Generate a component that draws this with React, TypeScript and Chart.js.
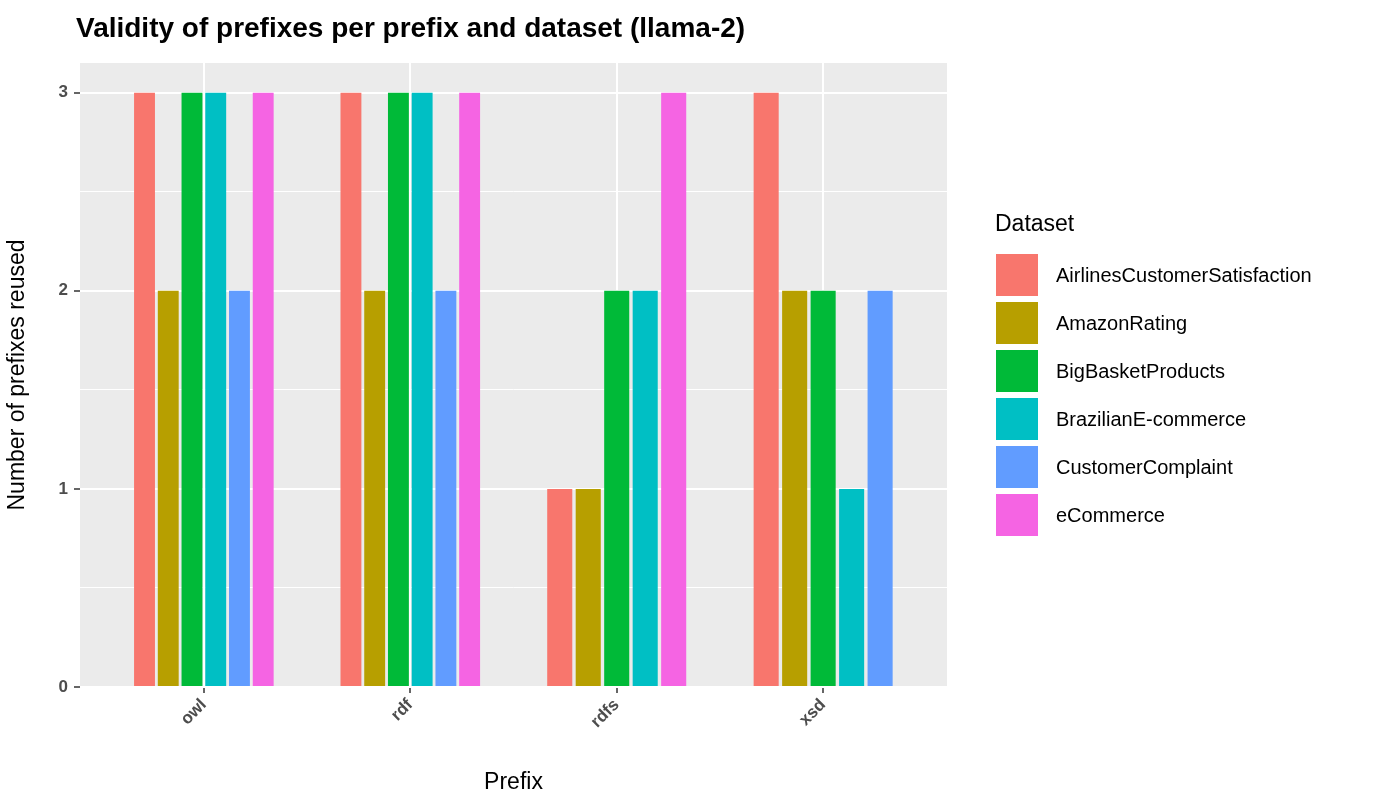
import React, { useEffect, useRef } from "react";
import { Chart, registerables } from "chart.js";
Chart.register(...registerables);

const prefixes = ["owl", "rdf", "rdfs", "xsd"];
const datasetNames = ["AirlinesCustomerSatisfaction", "AmazonRating", "BigBasketProducts", "BrazilianE-commerce", "CustomerComplaint", "eCommerce"];
const colors = ["#F8766D", "#B79F00", "#00BA38", "#00BFC4", "#619CFF", "#F564E3"];
const airlines = [3, 3, 1, 3];
const amazon = [2, 2, 1, 2];
const bigBasket = [3, 3, 2, 2];
const brazilian = [3, 3, 2, 1];
const complaint = [2, 2, null, 2];
const ecommerce = [3, 3, 3, null];
const seriesValues = [airlines, amazon, bigBasket, brazilian, complaint, ecommerce];

const FONT = "Arial, 'Liberation Sans', sans-serif";

export default function App() {
  const ref = useRef<HTMLCanvasElement>(null);
  useEffect(() => {
    const bg = {
      id: "bg",
      beforeDraw(c: any) {
        const a = c.chartArea;
        c.ctx.save();
        c.ctx.fillStyle = "#EBEBEB";
        c.ctx.fillRect(a.left, a.top, a.right - a.left, a.bottom - a.top);
        c.ctx.restore();
      },
    };
    const chart = new Chart(ref.current!, {
      type: "bar",
      data: {
        datasets: seriesValues.map((vals, i) => ({
          label: datasetNames[i],
          data: vals.map((v, j) => ({ x: j + 1, y: v })) as any,
          backgroundColor: colors[i],
          borderWidth: 0,
          skipNull: true,
          categoryPercentage: 0.69,
          barPercentage: 0.88,
        })),
      },
      options: {
        animation: false,
        responsive: false,
        events: [],
        layout: { padding: { top: 63, right: 453, left: 0, bottom: 0 } },
        plugins: { legend: { display: false }, tooltip: { enabled: false } },
        scales: {
          x: {
            type: "linear",
            offset: false,
            min: 0.4,
            max: 4.6,
            afterBuildTicks: (s: any) => { s.ticks = [1, 2, 3, 4].map((v) => ({ value: v })); },
            afterFit: (s: any) => { s.height = 113; },
            ticks: {
              callback: (v: any) => prefixes[Number(v) - 1] ?? "",
              minRotation: 45, maxRotation: 45,
              color: "#4D4D4D",
              font: { family: FONT, size: 17, weight: "bold" },
              padding: 2,
            },
            grid: { offset: false, color: "#FFFFFF", lineWidth: 2, tickLength: 6, tickColor: "#333333", tickWidth: 1.5 },
            border: { display: false },
            title: { display: true, text: "Prefix", color: "#000", font: { family: FONT, size: 23 }, padding: { top: 0 } },
          },
          y: {
            min: 0,
            max: 3.15,
            afterBuildTicks: (s: any) => { s.ticks = [0, 0.5, 1, 1.5, 2, 2.5, 3].map((v) => ({ value: v })); },
            afterFit: (s: any) => { s.width = 80; },
            ticks: {
              callback: (v: any) => (Number.isInteger(Number(v)) ? String(v) : ""),
              color: "#4D4D4D",
              font: { family: FONT, size: 17, weight: "bold" },
              padding: 6,
            },
            grid: {
              color: "#FFFFFF",
              lineWidth: (c: any) => (Number.isInteger(c.tick?.value) ? 2 : 1),
              tickLength: 6,
              tickColor: (c: any) => (Number.isInteger(c.tick?.value) ? "#333333" : "rgba(0,0,0,0)"),
              tickWidth: 1.5,
            },
            border: { display: false },
            title: { display: true, text: "Number of prefixes reused", color: "#000", font: { family: FONT, size: 23 }, padding: { bottom: 4 } },
          },
        },
      },
      plugins: [bg],
    });
    return () => chart.destroy();
  }, []);

  return (
    <div style={{ position: "absolute", left: 0, top: 0, width: 1400, height: 800, background: "#fff", fontFamily: FONT }}>
      <canvas ref={ref} width={1400} height={800} style={{ position: "absolute", left: 0, top: 0 }} />
      <div style={{ position: "absolute", left: 76, top: 12, fontSize: 28, fontWeight: "bold", color: "#000" }}>
        Validity of prefixes per prefix and dataset (llama-2)
      </div>
      <div style={{ position: "absolute", left: 995, top: 210, fontSize: 23, color: "#000" }}>Dataset</div>
      {datasetNames.map((n, i) => (
        <div key={n} style={{ position: "absolute", left: 995, top: 252 + i * 48, height: 46, display: "flex", alignItems: "center" }}>
          <div style={{ width: 44, height: 44, background: colors[i], border: "1px solid #fff", boxSizing: "border-box" }} />
          <span style={{ marginLeft: 17, fontSize: 20, color: "#000" }}>{n}</span>
        </div>
      ))}
    </div>
  );
}
